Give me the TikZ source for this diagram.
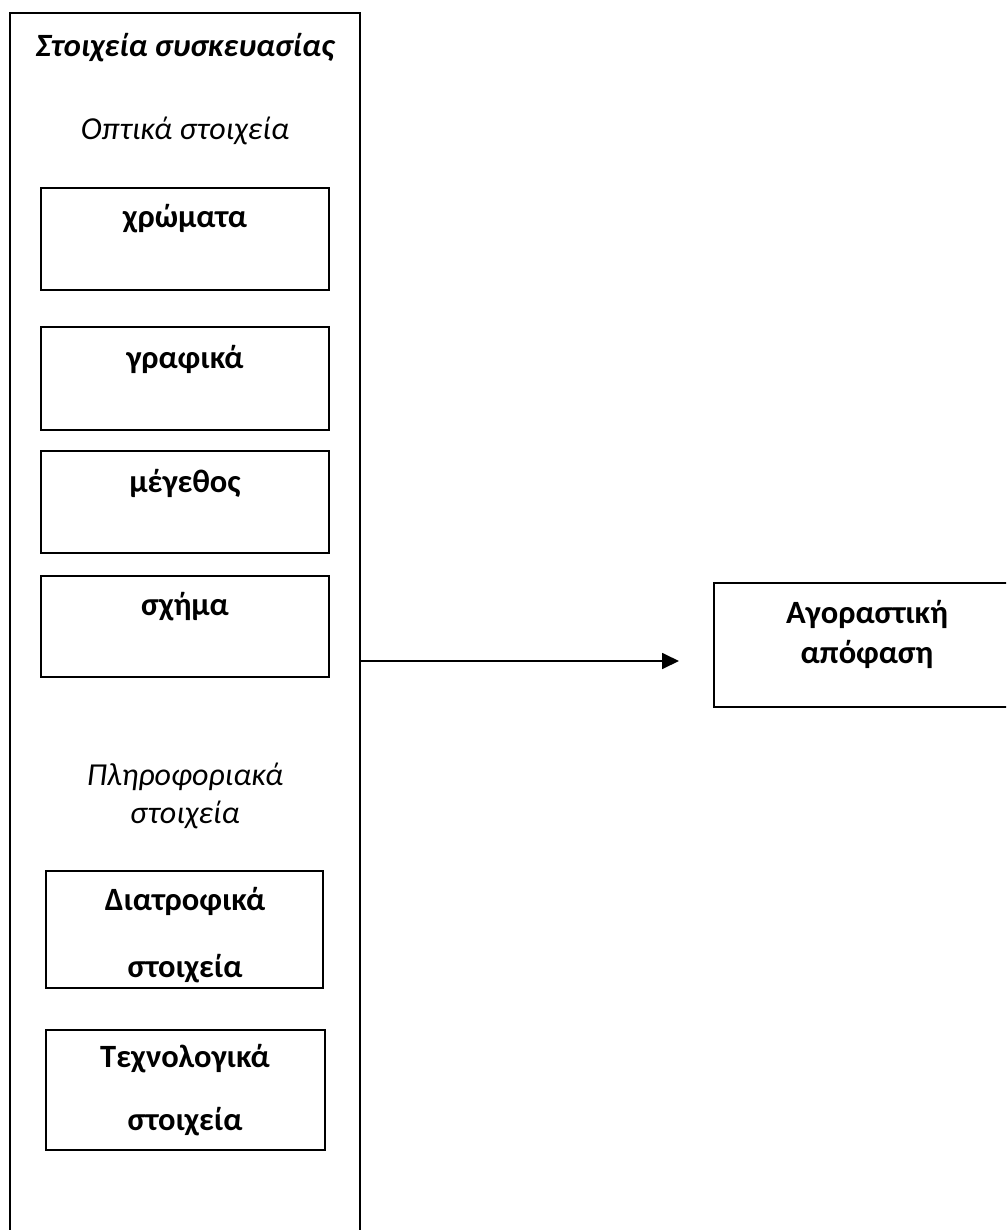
\documentclass[tikz,border=0pt]{standalone}
\usepackage{fontspec}
\setmainfont{Carlito}
\usetikzlibrary{arrows.meta}
\begin{document}
\begin{tikzpicture}[x=1pt,y=-1pt,line width=1.6pt,
  box/.style={draw, rectangle, inner sep=0pt, outer sep=0pt, anchor=north west},
  bt/.style={font=\fontsize{32.5}{38}\selectfont\bfseries, anchor=base, inner sep=0pt},
  it/.style={font=\fontsize{32}{38}\selectfont\itshape, anchor=base, inner sep=0pt},
  arr/.style={-{Triangle[length=17pt,width=16pt]}, line width=1.8pt}]
\useasboundingbox (0,0) rectangle (1006,1230);
\clip (0,0) rectangle (1006,1230);
\fill[white] (0,0) rectangle (1006,1230);
% outer frame (runs past bottom edge)
\node[box, minimum width=350pt, minimum height=1260pt] (outer) at (10,13) {};
% boxes
\node[box, minimum width=288pt, minimum height=102pt] (b1) at (41,188) {};
\node[box, minimum width=288pt, minimum height=103pt] (b2) at (41,327) {};
\node[box, minimum width=288pt, minimum height=102pt] (b3) at (41,451) {};
\node[box, minimum width=288pt, minimum height=101pt] (b4) at (41,576) {};
\node[box, minimum width=277pt, minimum height=117pt] (b5) at (46,871) {};
\node[box, minimum width=279pt, minimum height=120pt] (b6) at (46,1030) {};
\node[box, minimum width=306pt, minimum height=124pt] (dec) at (714,583) {};
% texts
\node[it, font=\fontsize{32.5}{38}\selectfont\bfseries\itshape] (title) at (185,57) {Στοιχεία συσκευασίας};
\node[it] (opt) at (185,140) {Οπτικά στοιχεία};
\node[bt] (t1) at (185,228) {χρώματα};
\node[bt] (t2) at (185,368) {γραφικά};
\node[bt] (t3) at (185,492) {μέγεθος};
\node[bt] (t4) at (185,615) {σχήμα};
\node[it] (inf1) at (185,785) {Πληροφοριακά};
\node[it] (inf2) at (185,823) {στοιχεία};
\node[bt] (t5a) at (185,910) {Διατροφικά};
\node[bt] (t5b) at (185,977) {στοιχεία};
\node[bt] (t6a) at (185,1067) {Τεχνολογικά};
\node[bt] (t6b) at (185,1130) {στοιχεία};
\node[bt] (d1) at (867,623) {Αγοραστική};
\node[bt] (d2) at (867,663) {απόφαση};
% arrow
\coordinate (tip) at (679,661);
\draw[arr] (outer.east |- tip) -- (tip);
\end{tikzpicture}
\end{document}
